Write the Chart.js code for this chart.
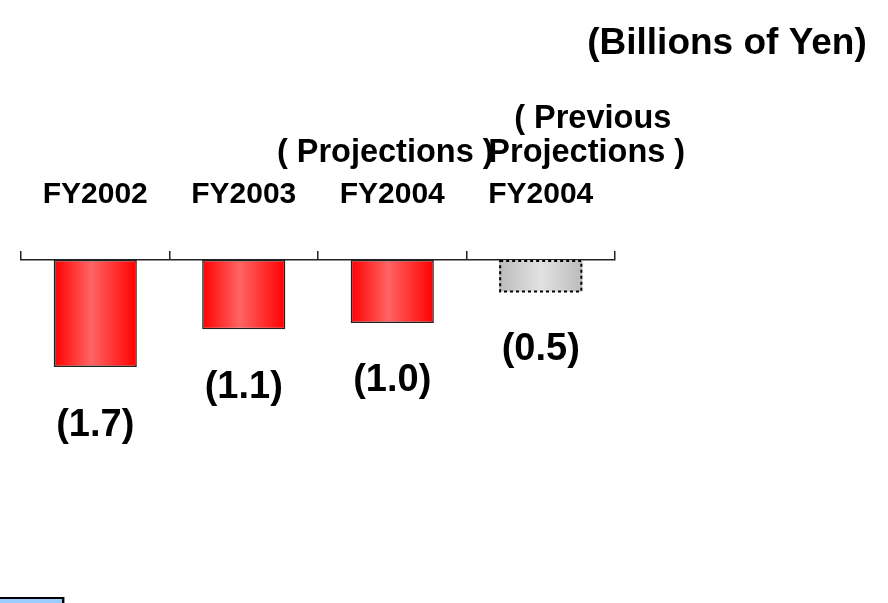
<!DOCTYPE html>
<html>
<head>
<meta charset="utf-8">
<script src="https://cdn.jsdelivr.net/npm/chart.js@4.4.1/dist/chart.umd.min.js"></script>
<style>
  html, body { margin: 0; padding: 0; background: #ffffff; }
  #wrap { position: relative; width: 888px; height: 603px; overflow: hidden; }
  #c { position: absolute; left: 0; top: 0; }
  #legendStub { position: absolute; left: -2px; top: 597px; width: 62px; height: 12px;
    background: #99ccff; border: 2px solid #000; box-shadow: 1px 0 0 #999; }
</style>
</head>
<body>
<div id="wrap">
  <canvas id="c" width="888" height="603"></canvas>
  <div id="legendStub"></div>
</div>
<script>
// ---- data ----
const categories = ['FY2002', 'FY2003', 'FY2004', 'FY2004'];
const headerLines = [[], [], ['( Projections )'], ['( Previous', 'Projections )']];
const values = [-1.7, -1.1, -1.0, -0.5];
const valueLabels = ['(1.7)', '(1.1)', '(1.0)', '(0.5)'];
const projectedFlags = [false, false, false, true];
const unitLabel = '(Billions of Yen)';

// ---- styles ----
const FONT = '"Liberation Sans", Arial, Helvetica, sans-serif';
// horizontal offsets of header lines relative to the category centre (index 0 = line nearest axis)
const headerOffsetX = [[0, 0], [0, 0], [-7, 0], [46, 52]];

function barGradient(chart, index) {
  const xs = chart.scales.x;
  if (!xs || !xs.width) return '#ff3030';
  const cx = xs.getPixelForValue(index);
  const w = xs.width / categories.length * 0.56;
  const g = chart.ctx.createLinearGradient(cx - w / 2, 0, cx + w / 2, 0);
  if (projectedFlags[index]) {
    g.addColorStop(0, '#bcbcbc');
    g.addColorStop(0.5, '#e2e2e2');
    g.addColorStop(1, '#bcbcbc');
  } else {
    g.addColorStop(0, '#ff0000');
    g.addColorStop(0.45, '#ff6464');
    g.addColorStop(1, '#ff0000');
  }
  return g;
}

const textPlugin = {
  id: 'texts',
  afterDatasetsDraw(chart) {
    const ctx = chart.ctx;
    const xs = chart.scales.x;
    const top = chart.chartArea.top;
    const meta = chart.getDatasetMeta(0);
    ctx.save();
    // dashed border for projected bar
    meta.data.forEach((bar, i) => {
      if (!projectedFlags[i]) return;
      const p = bar.getProps(['x', 'y', 'base', 'width'], true);
      ctx.strokeStyle = '#000';
      ctx.lineWidth = 2;
      ctx.setLineDash([3, 3]);
      ctx.strokeRect(p.x - p.width / 2 + 1, Math.min(p.y, p.base) + 1, p.width - 2, Math.abs(p.y - p.base) - 1);
      ctx.setLineDash([]);
    });
    ctx.fillStyle = '#000';
    ctx.textAlign = 'center';
    ctx.textBaseline = 'alphabetic';
    // unit label
    ctx.font = 'bold 37px ' + FONT;
    ctx.fillText(unitLabel, 727, 54);
    // category labels
    const headerBaselines = [top - 98, top - 132];
    categories.forEach((c, i) => {
      const x = xs.getPixelForValue(i);
      ctx.font = 'bold 30px ' + FONT;
      ctx.fillText(c, x, top - 57);
      const lines = headerLines[i];
      ctx.font = 'bold 32.5px ' + FONT;
      lines.forEach((ln, k) => {
        const fromAxis = lines.length - 1 - k;
        ctx.fillText(ln, x + headerOffsetX[i][fromAxis], headerBaselines[fromAxis]);
      });
    });
    // value labels below bars
    ctx.textBaseline = 'middle';
    ctx.font = 'bold 38px ' + FONT;
    meta.data.forEach((bar, i) => {
      const p = bar.getProps(['x', 'y'], true);
      ctx.fillText(valueLabels[i], p.x, p.y + 58);
    });
    ctx.restore();
  }
};

new Chart(document.getElementById('c'), {
  type: 'bar',
  data: {
    labels: categories,
    datasets: [{
      data: values,
      backgroundColor: (ctx) => barGradient(ctx.chart, ctx.dataIndex),
      borderColor: (ctx) => projectedFlags[ctx.dataIndex] ? 'rgba(0,0,0,0)' : '#222222',
      borderWidth: (ctx) => projectedFlags[ctx.dataIndex] ? 0 : 1.5,
      borderSkipped: false,
      barPercentage: 0.56,
      categoryPercentage: 1.0
    }]
  },
  options: {
    responsive: false,
    animation: false,
    devicePixelRatio: 1,
    layout: { padding: { left: 21, right: 273, top: 251, bottom: 28 } },
    plugins: { legend: { display: false }, tooltip: { enabled: false }, title: { display: false } },
    scales: {
      x: {
        position: 'top',
        offset: true,
        grid: { display: true, drawOnChartArea: false, drawTicks: true, tickLength: 9, color: '#222', lineWidth: 1.5, offset: true },
        border: { display: true, color: '#222', width: 1.5 },
        ticks: { display: false }
      },
      y: {
        display: false,
        min: -5,
        max: 0
      }
    }
  },
  plugins: [textPlugin]
});
</script>
</body>
</html>
